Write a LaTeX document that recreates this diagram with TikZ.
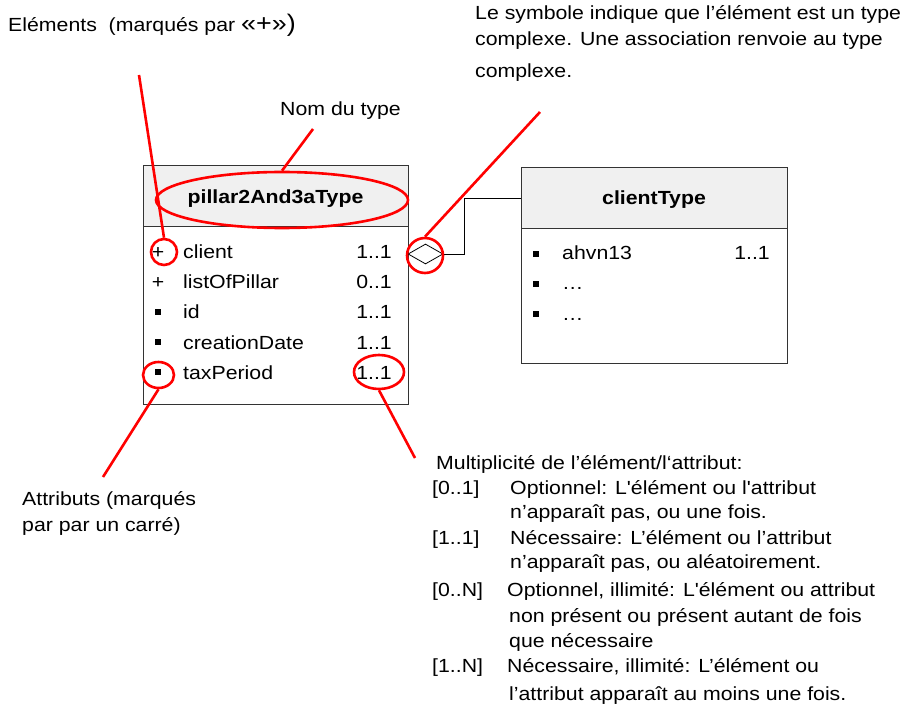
\documentclass[tikz,border=0pt]{standalone}
\usepackage{fontspec}
\setmainfont{Liberation Sans}[FakeStretch=1.12, Ligatures=TeXOff]
\usetikzlibrary{shapes.geometric}
\definecolor{hdrgray}{HTML}{F0F0F0}
\begin{document}
\begin{tikzpicture}[x=1pt,y=-1pt,
  txt/.style={font=\fontsize{19}{23}\selectfont, inner sep=0pt, anchor=base west},
  num/.style={font=\fontsize{19}{23}\selectfont, inner sep=0pt, anchor=base east},
  sym/.style={font=\fontsize{19}{23}\selectfont, inner sep=0pt, anchor=base},
  ttl/.style={font=\bfseries\fontsize{19}{23}\selectfont, inner sep=0pt, anchor=base},
  boxln/.style={draw=black!80, line width=1pt, rectangle, inner sep=0pt, anchor=north west},
  hdr/.style={boxln, fill=hdrgray},
  bul/.style={fill=black, minimum size=6pt, inner sep=0pt, rectangle},
  redring/.style={ellipse, draw=red, line width=2.6pt, inner sep=0pt},
  redln/.style={draw=red, line width=2.6pt},
]
\useasboundingbox (0,0) rectangle (904,708);

% ---- pillar2And3aType box
\node[boxln, minimum width=265pt, minimum height=239pt] (pbox) at (143,165) {};
\node[hdr, minimum width=265pt, minimum height=61pt] (phead) at (143,165) {};
\node[ttl] (ptitle) at (275.5,204) {pillar2And3aType};

\node[sym] (p1) at (158,259) {+};
\node[txt] (r1) at (183,259) {client};
\node[num] (m1) at (392,259) {1..1};
\node[sym] (p2) at (158,289) {+};
\node[txt] (r2) at (183,289) {listOfPillar};
\node[num] (m2) at (392,289) {0..1};
\node[bul] (b3) at (158,312) {};
\node[txt] (r3) at (183,319) {id};
\node[num] (m3) at (392,319) {1..1};
\node[bul] (b4) at (158,342) {};
\node[txt] (r4) at (183,349) {creationDate};
\node[num] (m4) at (392,349) {1..1};
\node[bul] (b5) at (158,372) {};
\node[txt] (r5) at (183,379) {taxPeriod};
\node[num] (m5) at (392,379) {1..1};

% ---- clientType box
\node[boxln, minimum width=266pt, minimum height=196pt] (cbox) at (521,167) {};
\node[hdr, minimum width=266pt, minimum height=61pt] (chead) at (521,167) {};
\node[ttl] (ctitle) at (654,205) {clientType};
\node[bul] (cb1) at (536,254) {};
\node[txt] (c1) at (562,260) {ahvn13};
\node[num] (cm1) at (770,260) {1..1};
\node[bul] (cb2) at (536,284) {};
\node[txt] (c2) at (562,290) {…};
\node[bul] (cb3) at (536,314) {};
\node[txt] (c3) at (562,320) {…};

% ---- association
\node[diamond, draw=black, line width=0.8pt, inner sep=0pt, minimum width=35pt, minimum height=20pt] (dia) at (425.5,254) {};
\coordinate (bend) at (464,254);
\draw[line width=0.8pt] (dia.east) -- (bend) |- (chead.west);

% ---- red rings
\node[redring, minimum width=252pt, minimum height=56pt] (e1) at (282,200) {};
\node[redring, minimum width=26pt, minimum height=26pt] (e2) at (164,252) {};
\node[redring, minimum width=31pt, minimum height=26pt] (e3) at (158.5,375) {};
\node[redring, minimum width=50pt, minimum height=34pt] (e4) at (379,372) {};
\node[redring, minimum width=36pt, minimum height=35pt] (e5) at (425,255.5) {};

\coordinate (a1) at (313,129);
\coordinate (a2) at (139,75);
\coordinate (a3) at (540,112);
\coordinate (a4) at (103,477);
\coordinate (a5) at (415,458);
\draw[redln] (a1) -- (e1.north);
\draw[redln] (a2) -- (e2.north);
\draw[redln] (a3) -- (e5.north);
\draw[redln] (e3.south) -- (a4);
\draw[redln] (e4.south) -- (a5);

% ---- annotations
\node[txt] (nom) at (280,116) {Nom du type};
\node[txt] (elem) at (8,32) {Eléments\ \ (marqués par {\fontsize{24}{24}\selectfont «+»)}};
\node[txt] (sym1) at (475,20) {Le symbole indique que l’élément est un type};
\node[txt] (sym2) at (475,46) {complexe. Une association renvoie au type};
\node[txt] (sym3) at (475,78) {complexe.};
\node[txt] (att1) at (22,505) {Attributs (marqués};
\node[txt] (att2) at (22,531) {par par un carré)};

\node[txt] (mul) at (436,469) {Multiplicité de l’élément/l‘attribut:};
\node[txt] (k1) at (432,494) {[0..1]};
\node[txt] (d1a) at (510,494) {Optionnel: L'élément ou l'attribut};
\node[txt] (d1b) at (510,518) {n’apparaît pas, ou une fois.};
\node[txt] (k2) at (432,544) {[1..1]};
\node[txt] (d2a) at (510,544) {Nécessaire: L’élément ou l’attribut};
\node[txt] (d2b) at (510,568) {n’apparaît pas, ou aléatoirement.};
\node[txt] (k3) at (432,596) {[0..N]};
\node[txt] (d3a) at (507,596) {Optionnel, illimité: L'élément ou attribut};
\node[txt] (d3b) at (509,622) {non présent ou présent autant de fois};
\node[txt] (d3c) at (509,647) {que nécessaire};
\node[txt] (k4) at (432,672) {[1..N]};
\node[txt] (d4a) at (507,672) {Nécessaire, illimité: L’élément ou};
\node[txt] (d4b) at (509,700) {l’attribut apparaît au moins une fois.};
\end{tikzpicture}
\end{document}
